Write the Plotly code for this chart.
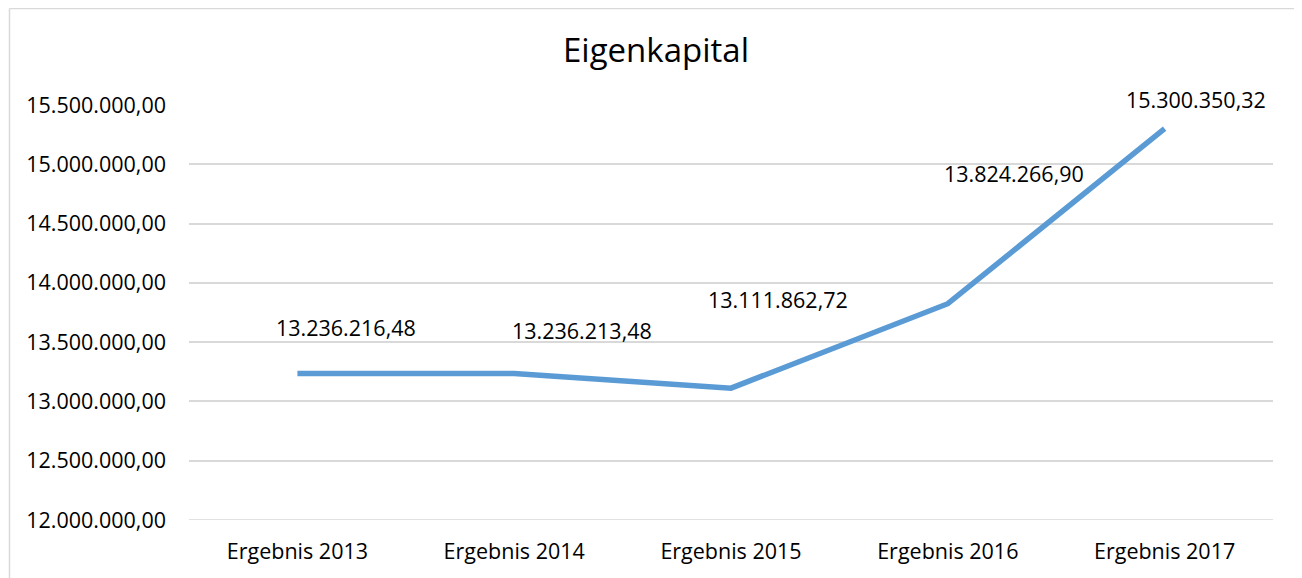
import plotly.graph_objects as go

categories = ["Ergebnis 2013", "Ergebnis 2014", "Ergebnis 2015", "Ergebnis 2016", "Ergebnis 2017"]
values = [13236216.48, 13236213.48, 13111862.72, 13824266.90, 15300350.32]
y_ticks = [12000000, 12500000, 13000000, 13500000, 14000000, 14500000, 15000000, 15500000]
title_text = "Eigenkapital"

# label placement offsets in pixels (style, not data)
label_dx = [49, 68, 47, 66, 31]
label_dy = [46, 43, 89, 130, 29]

FONT = "Open Sans"
LINE_COLOR = "#5B9BD5"
GRID = "#D9D9D9"

W, H = 1302, 578
OFF = 8  # browser body margin
L, R = 189 - OFF, W - (1273 - OFF)
T, B = 105 - OFF, H - (520 - OFF)
PW, PH = W - L - R, H - T - B


def de_fmt(v):
    s = f"{v:,.2f}"
    return s.replace(",", "X").replace(".", ",").replace("X", ".")


fig = go.Figure()
fig.add_trace(go.Scatter(
    x=categories, y=values, mode="lines",
    line=dict(color=LINE_COLOR, width=5.5),
    hoverinfo="skip",
))

for c, v, dx, dy in zip(categories, values, label_dx, label_dy):
    fig.add_annotation(
        x=c, y=v, text=de_fmt(v), showarrow=False,
        xshift=dx, yshift=dy,
        font=dict(family=FONT, size=21.5, color="#000000"),
    )

fig.update_layout(
    width=W, height=H,
    margin=dict(l=L, r=R, t=T, b=B),
    paper_bgcolor="white", plot_bgcolor="white",
    separators=",.",
    showlegend=False,
    font=dict(family=FONT, size=21.5, color="#000000"),
    title=dict(text=title_text, x=(656 - OFF) / W, xanchor="center",
               y=1 - (50 - OFF) / H, yanchor="middle",
               font=dict(family=FONT, size=33, color="#000000")),
    xaxis=dict(
        range=[-0.5, len(categories) - 0.5],
        showgrid=False, showline=False, zeroline=False,
        ticks="", ticklabelstandoff=16,
        tickfont=dict(family=FONT, size=21.5, color="#000000"),
    ),
    yaxis=dict(
        range=[y_ticks[0], y_ticks[-1]],
        tickvals=y_ticks, tickformat=",.2f",
        showgrid=True, gridcolor=GRID, gridwidth=1.5,
        zeroline=False, showline=False,
        ticks="", ticklabelstandoff=22,
        tickfont=dict(family=FONT, size=21.5, color="#000000"),
    ),
    shapes=[
        dict(type="line", xref="paper", yref="y", layer="below",
             x0=0, x1=1, y0=y_ticks[0], y1=y_ticks[0],
             line=dict(color=GRID, width=1.5)),
        dict(type="line", xref="paper", yref="paper",
             x0=(1.5 - L) / PW, x1=(1.5 - L) / PW,
             y0=1 + (T - 0.5) / PH, y1=-(B + 20) / PH,
             line=dict(color=GRID, width=1.5)),
        dict(type="line", xref="paper", yref="paper",
             x0=(1.5 - L) / PW, x1=(W + 20 - L) / PW,
             y0=1 + (T - 0.5) / PH, y1=1 + (T - 0.5) / PH,
             line=dict(color=GRID, width=1.5)),
    ],
)

fig.write_html("out.html")
